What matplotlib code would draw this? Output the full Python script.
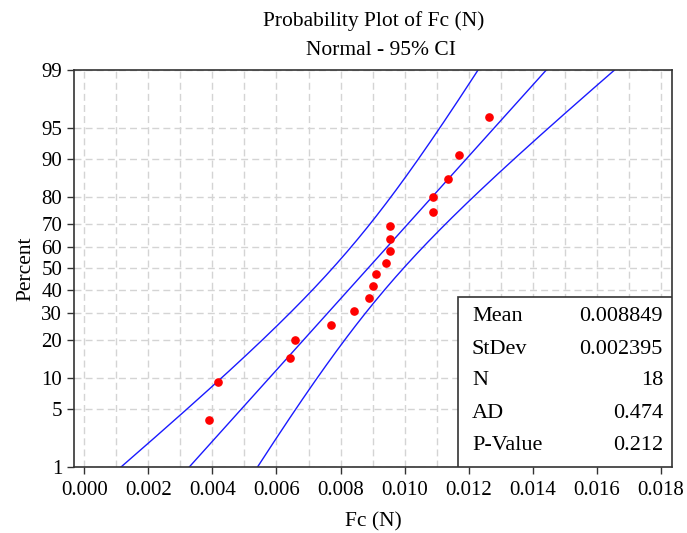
from statistics import NormalDist
import numpy as np
import matplotlib
matplotlib.use("Agg")
import matplotlib.pyplot as plt
from matplotlib.ticker import MultipleLocator, FixedLocator

plt.rcParams["font.family"] = ["Liberation Serif", "DejaVu Serif"]

# observed Fc values (N), sorted
fc = [0.003887, 0.004178, 0.006418, 0.006584, 0.007688, 0.008418,
      0.008897, 0.009011, 0.009116, 0.009428, 0.009543, 0.009543,
      0.009543, 0.010876, 0.010876, 0.011355, 0.011688, 0.012637]

MEAN = 0.008849
STDEV = 0.002395
N = 18
AD = 0.474
PVAL = 0.212

pct_ticks = [1, 5, 10, 20, 30, 40, 50, 60, 70, 80, 90, 95, 99]
x_ticks = [0.000, 0.002, 0.004, 0.006, 0.008, 0.010, 0.012, 0.014, 0.016, 0.018]

nd = NormalDist()
z = lambda p: nd.inv_cdf(p)

# median-rank plotting positions
ranks = np.arange(1, N + 1)
pp = (ranks - 0.3) / (N + 0.4)
zp = np.array([z(p) for p in pp])

zmin, zmax = z(0.01), z(0.99)
zz = np.linspace(zmin, zmax, 200)
fit = MEAN + STDEV * zz
se = STDEV * np.sqrt(1 / N + zz ** 2 / (2 * N))
lo = fit - 1.96 * se
hi = fit + 1.96 * se

fig = plt.figure(figsize=(6.87, 5.33), dpi=100)
ax = fig.add_axes([0.1077, 0.1238, 0.8703, 0.7449])

ax.plot(fit, zz, color="#1a1aff", lw=1)
ax.plot(lo, zz, color="#1a1aff", lw=1)
ax.plot(hi, zz, color="#1a1aff", lw=1)
ax.plot(fc, zp, "o", color="#ff0000", ms=5.2, zorder=5)

ax.set_xlim(-0.00032, 0.01834)
ax.set_ylim(zmin, zmax)

ax.xaxis.set_major_locator(FixedLocator(x_ticks))
ax.xaxis.set_minor_locator(MultipleLocator(0.001))
ax.set_xticklabels([f"{v:.3f}" for v in x_ticks])
ax.yaxis.set_major_locator(FixedLocator([z(p / 100) for p in pct_ticks]))
ax.set_yticklabels([str(p) for p in pct_ticks])

ax.tick_params(axis="both", which="major", direction="out", length=5,
               width=1, labelsize=15, color="#333333")
ax.tick_params(axis="x", which="major", pad=5)
ax.tick_params(axis="x", which="minor", length=0)
ax.grid(True, which="both", axis="x", color="#d4d4d4", ls=(0, (5, 3)), lw=1)
ax.grid(True, which="major", axis="y", color="#d4d4d4", ls=(0, (5, 3)), lw=1)
ax.set_axisbelow(True)
for s in ax.spines.values():
    s.set_color("#333333")
    s.set_linewidth(1.2)

ax.set_xlabel("Fc (N)", fontsize=15.5, labelpad=9)
ax.set_ylabel("Percent", fontsize=15.5)

fig.text(0.544, 0.960, "Probability Plot of Fc (N)", ha="center", va="center", fontsize=15.5)
fig.text(0.555, 0.906, "Normal - 95% CI", ha="center", va="center", fontsize=15.5)

# stats box
box = plt.Rectangle((0.642, 0.0), 0.358, 0.428, transform=ax.transAxes,
                    facecolor="white", edgecolor="#333333", lw=1.2, zorder=6)
ax.add_patch(box)
rows = [("Mean", f"{MEAN:.6f}"), ("StDev", f"{STDEV:.6f}"), ("N", str(N)),
        ("AD", f"{AD:.3f}"), ("P-Value", f"{PVAL:.3f}")]
ys = [0.380, 0.297, 0.219, 0.136, 0.053]
for (lab, val), y in zip(rows, ys):
    ax.text(0.6656, y, lab, transform=ax.transAxes, ha="left", va="center",
            fontsize=16, zorder=7)
    ax.text(0.985, y, val, transform=ax.transAxes, ha="right", va="center",
            fontsize=16, zorder=7)

fig.savefig("out.png", dpi=100, facecolor="white")
